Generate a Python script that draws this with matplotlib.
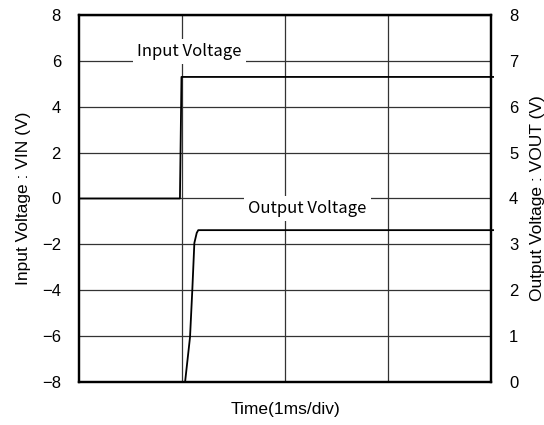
import matplotlib
matplotlib.use("Agg")
import matplotlib.pyplot as plt
import numpy as np

# time in divisions (1ms/div)
t_in = [0.0, 0.98, 0.995, 4.02]
v_in = [0.0, 0.0, 5.3, 5.3]

t_out = [1.03, 1.078, 1.10, 1.12, 1.143, 1.158, 4.02]
v_out = [0.0, 0.98, 2.0, 3.03, 3.25, 3.31, 3.31]

left_ticks = [-8, -6, -4, -2, 0, 2, 4, 6, 8]
right_ticks = [0, 1, 2, 3, 4, 5, 6, 7, 8]

plt.rcParams['font.family'] = ['Liberation Sans', 'DejaVu Sans']
jp = ['Noto Sans CJK JP', 'DejaVu Sans']

fig = plt.figure(figsize=(5.44, 4.25), dpi=100)
ax = fig.add_axes([0.1452, 0.1012, 0.7574, 0.8635])
ax2 = ax.twinx()

ax.set_xlim(0, 4)
ax.set_ylim(-8, 8)
ax2.set_ylim(0, 8)
ax.set_xticks([1, 2, 3])
ax.set_xticklabels([])
ax.set_yticks(left_ticks)
ax.set_yticklabels([str(v).replace('-', '\u2212') for v in left_ticks])
ax2.set_yticks(right_ticks)
ax.tick_params(length=0, labelsize=12, pad=13)
ax2.tick_params(length=0, labelsize=12, pad=13)
ax.grid(True, color='#333333', linewidth=0.9)
for a in (ax, ax2):
    for s in a.spines.values():
        s.set_linewidth(1.6)

ax.plot(t_in, v_in, color='black', linewidth=1.3, clip_on=False, zorder=3)
ax2.plot(t_out, v_out, color='black', linewidth=1.3, clip_on=False, zorder=3)

ax.text(1.07, 6.4, 'Input Voltage', fontsize=12, family=jp, ha='center', va='center',
        bbox=dict(facecolor='white', edgecolor='none', pad=3), zorder=4)
ax.text(2.22, -0.45, 'Output Voltage', fontsize=12, family=jp, ha='center', va='center',
        bbox=dict(facecolor='white', edgecolor='none', pad=3), zorder=4)

ax.set_ylabel('Input Voltage : VIN (V)', fontsize=12.5, labelpad=8)
ax2.set_ylabel('Output Voltage : VOUT (V)', fontsize=12.5, labelpad=8)
fig.text(0.524, 0.036, 'Time(1ms/div)', fontsize=12.5, ha='center', va='center')

fig.savefig('out.png', dpi=100)
